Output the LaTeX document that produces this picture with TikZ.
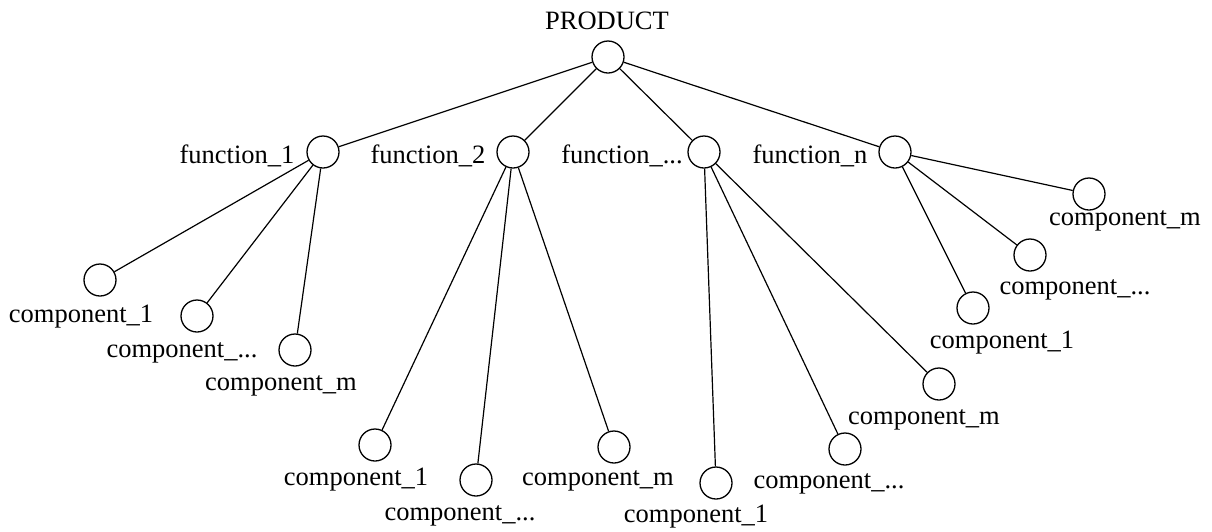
\documentclass[tikz,border=0pt]{standalone}
\usepackage{fontspec}
\setmainfont{Liberation Serif}
\begin{document}
\begin{tikzpicture}[x=1pt,y=-1pt,
  nd/.style={circle,draw,line width=1.3pt,minimum size=32pt,inner sep=0pt},
  lbl/.style={anchor=base,inner sep=0pt,font=\fontsize{26.5}{30}\selectfont},
  edge/.style={line width=1.2pt}]
\useasboundingbox (0,0) rectangle (1212,531);
% nodes
\node[nd] (P) at (608,57) {};
\node[nd] (F1) at (323,152) {};
\node[nd] (F2) at (513,152) {};
\node[nd] (F3) at (704,152) {};
\node[nd] (F4) at (895,152) {};
\node[nd] (A1) at (100,280) {};
\node[nd] (A2) at (197,316) {};
\node[nd] (A3) at (295,350) {};
\node[nd] (B1) at (375,445) {};
\node[nd] (B2) at (476,480) {};
\node[nd] (B3) at (614,447) {};
\node[nd] (C1) at (716,483) {};
\node[nd] (C2) at (845,449) {};
\node[nd] (C3) at (939,384) {};
\node[nd] (D1) at (973,308) {};
\node[nd] (D2) at (1030,255) {};
\node[nd] (D3) at (1089,194) {};
% labels
\node[lbl] (lP) at (607,29) {PRODUCT};
\node[lbl] (lF1) at (237,163) {function\_1};
\node[lbl] (lF2) at (428,163) {function\_2};
\node[lbl] (lF3) at (622,163) {function\_...};
\node[lbl] (lF4) at (810,163) {function\_n};
\node[lbl] (lA1) at (81,322) {component\_1};
\node[lbl] (lA2) at (182,357) {component\_...};
\node[lbl] (lA3) at (281,390) {component\_m};
\node[lbl] (lB1) at (356,485) {component\_1};
\node[lbl] (lB2) at (460,520) {component\_...};
\node[lbl] (lB3) at (598,485) {component\_m};
\node[lbl] (lC1) at (696,522) {component\_1};
\node[lbl] (lC2) at (829,488) {component\_...};
\node[lbl] (lC3) at (924,424) {component\_m};
\node[lbl] (lD1) at (1002,348) {component\_1};
\node[lbl] (lD2) at (1075,294) {component\_...};
\node[lbl] (lD3) at (1125,225) {component\_m};
% edges
\foreach \f in {F1,F2,F3,F4} \draw[edge] (P) -- (\f);
\foreach \c in {A1,A2,A3} \draw[edge] (F1) -- (\c);
\foreach \c in {B1,B2,B3} \draw[edge] (F2) -- (\c);
\foreach \c in {C1,C2,C3} \draw[edge] (F3) -- (\c);
\foreach \c in {D1,D2,D3} \draw[edge] (F4) -- (\c);
\end{tikzpicture}
\end{document}
